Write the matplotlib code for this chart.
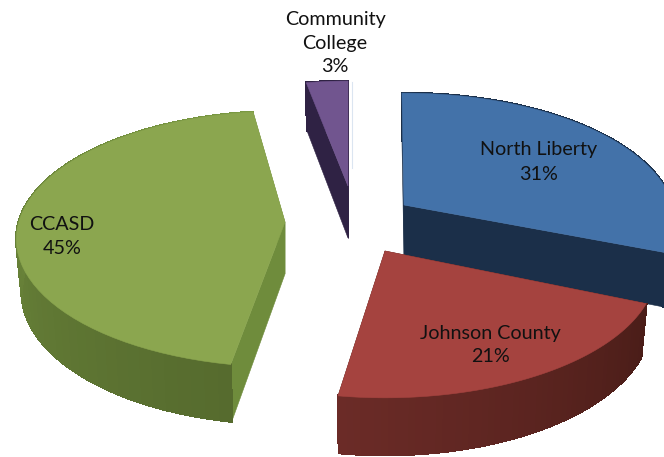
import numpy as np
import matplotlib
matplotlib.use('Agg')
import matplotlib.pyplot as plt
from matplotlib.patches import Polygon

# Dados do gráfico
categorias = ['North Liberty', 'Johnson County', 'CCASD', 'Community\nCollege']
valores = [31, 21, 45, 3]

# Estilo de cada fatia (na ordem de categorias)
CORES_TOPO = ['#4372a9', '#a5433f', '#8ba64f', '#71558f']
CORES_FACE = ['#1b2f49', '#4a1d18', '#6f8c3c', '#2f2244']
CORES_PAREDE = [('#1b2f49', '#1b2f49'), ('#4a1d18', '#6b2b27'),
                ('#566b2e', '#7a9943'), ('#2f2244', '#2f2244')]
APICES = [(404, 205), (385, 251), (285, 222), (348, 186)]
RAIOS = [1.0, 1.0, 0.99, 0.93]
GIROS = [-0.5, 1.5, 3.0, 0.0]  # ajuste fino do ângulo de cada fatia
POS_TEXTO = [(539, 162), (490, 345), (62, 237), (335, 43)]

RX, RY, PERSP = 269, 127, 0.135
ALTURA = 52
ORDEM = [0, 2, 3, 1]


def projeta(ang, apice, raio=1.0, z=0.0):
    """Ângulo (graus, horário a partir do topo) para pixel na imagem."""
    a = np.radians(ang)
    u, v = raio * np.sin(a), raio * np.cos(a)
    s = 1 / (1 + PERSP * v)
    afina = 1 - 0.02 * z
    x = apice[0] + RX * u * s * afina
    y = apice[1] - RY * v * s * afina + ALTURA * s * z
    return x, y


def desenha_fatia(ax, ini, fim, i):
    apice, raio = APICES[i], RAIOS[i]
    angs = np.linspace(ini, fim, 60) + GIROS[i]
    xt, yt = projeta(angs, apice, raio)
    xb, yb = projeta(angs, apice, raio, z=1.0)
    c0 = np.array(matplotlib.colors.to_rgb(CORES_PAREDE[i][0]))
    c1 = np.array(matplotlib.colors.to_rgb(CORES_PAREDE[i][1]))

    # Faces de corte
    base = (apice[0], apice[1] + ALTURA)
    for j in (0, -1):
        face = [apice, (xt[j], yt[j]), (xb[j], yb[j]), base]
        ax.add_patch(Polygon(face, closed=True, facecolor=CORES_FACE[i],
                             edgecolor=CORES_FACE[i], linewidth=0.4))

    # Parede externa em tiras para dar o degradê
    for k in range(len(angs) - 1):
        t = k / (len(angs) - 2)
        quad = [(xt[k], yt[k]), (xt[k + 1], yt[k + 1]),
                (xb[k + 1], yb[k + 1]), (xb[k], yb[k])]
        cor = c0 + (c1 - c0) * t
        ax.add_patch(Polygon(quad, closed=True, facecolor=cor, edgecolor=cor,
                             linewidth=1.2, antialiased=False))

    # Topo
    topo = [apice] + list(zip(xt, yt))
    ax.add_patch(Polygon(topo, closed=True, facecolor=CORES_TOPO[i],
                         edgecolor=CORES_TOPO[i], linewidth=0.4))


fig = plt.figure(figsize=(6.64, 4.57), dpi=100, facecolor='white')
ax = fig.add_axes([0, 0, 1, 1])
ax.set_xlim(0, 664)
ax.set_ylim(457, 0)
ax.axis('off')

total = sum(valores)
limites = np.cumsum([0] + valores) / total * 360
for i in ORDEM:
    desenha_fatia(ax, limites[i], limites[i + 1], i)

# Linha clara ao lado da fatia roxa
ax.plot([352, 352], [82, 168], color='#dbe5f1', linewidth=0.8)

for nome, valor, (x, y) in zip(categorias, valores, POS_TEXTO):
    ax.text(x, y, f'{nome}\n{valor}%', ha='center', va='center', family='Lato',
            fontsize=14.2, linespacing=1.5, color='#111111')

fig.savefig('out.png', dpi=100, facecolor='white')
